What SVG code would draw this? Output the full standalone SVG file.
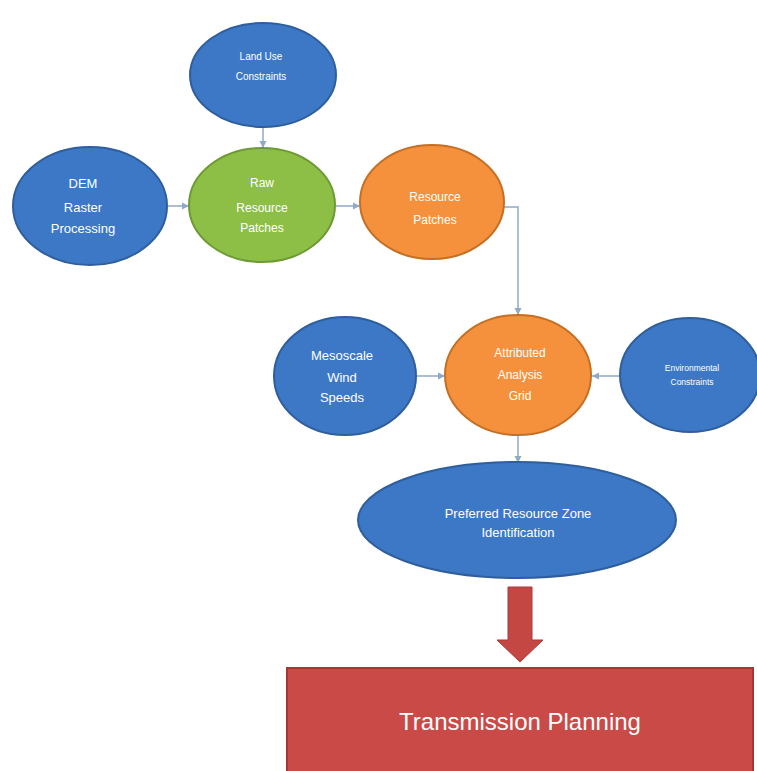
<svg xmlns="http://www.w3.org/2000/svg" width="757" height="771" viewBox="0 0 757 771">
<defs>
<style>
.blue{fill:#3d78c6;stroke:#2f5e9c;stroke-width:2}
.green{fill:#8dbf46;stroke:#6e9a33;stroke-width:2}
.orange{fill:#f5913c;stroke:#c56f25;stroke-width:2}
.t{fill:#ffffff;font-family:"Liberation Sans",Arial,sans-serif;text-anchor:middle}
.c{fill:none;stroke:#8fa9c8;stroke-width:1.5}
</style>
<marker id="ah" markerWidth="8" markerHeight="8" refX="7" refY="4" orient="auto" markerUnits="userSpaceOnUse">
<path d="M0,0.5 L7,4 L0,7.5 Z" fill="#8fa9c8"/>
</marker>
</defs>
<rect width="757" height="771" fill="#ffffff"/>
<g id="connectors">
<line class="c" x1="263" y1="127" x2="263" y2="148" marker-end="url(#ah)"/>
<line class="c" x1="168" y1="206" x2="189" y2="206" marker-end="url(#ah)"/>
<line class="c" x1="336" y1="206" x2="360" y2="206" marker-end="url(#ah)"/>
<polyline class="c" points="503,207 518,207 518,315" marker-end="url(#ah)"/>
<line class="c" x1="417" y1="376" x2="445" y2="376" marker-end="url(#ah)"/>
<line class="c" x1="620" y1="376" x2="592" y2="376" marker-end="url(#ah)"/>
<line class="c" x1="518" y1="435" x2="518" y2="463" marker-end="url(#ah)"/>
</g>
<g id="land-use">
<ellipse class="blue" cx="263" cy="75" rx="73" ry="52"/>
<text class="t" font-size="10"><tspan x="261" y="60">Land Use</tspan><tspan x="261" y="80">Constraints</tspan></text>
</g>
<g id="dem">
<ellipse class="blue" cx="90" cy="206" rx="77" ry="59"/>
<text class="t" font-size="13"><tspan x="83" y="188">DEM</tspan><tspan x="83" y="212">Raster</tspan><tspan x="83" y="233">Processing</tspan></text>
</g>
<g id="raw-resource-patches">
<ellipse class="green" cx="262" cy="205" rx="73" ry="57"/>
<text class="t" font-size="12"><tspan x="262" y="187">Raw</tspan><tspan x="262" y="212">Resource</tspan><tspan x="262" y="232">Patches</tspan></text>
</g>
<g id="resource-patches">
<ellipse class="orange" cx="432" cy="202" rx="72" ry="57"/>
<text class="t" font-size="12"><tspan x="435" y="201">Resource</tspan><tspan x="435" y="224">Patches</tspan></text>
</g>
<g id="mesoscale">
<ellipse class="blue" cx="345" cy="376" rx="71" ry="59"/>
<text class="t" font-size="13"><tspan x="342" y="360">Mesoscale</tspan><tspan x="342" y="382">Wind</tspan><tspan x="342" y="402">Speeds</tspan></text>
</g>
<g id="attributed-grid">
<ellipse class="orange" cx="518" cy="375" rx="73" ry="60"/>
<text class="t" font-size="12"><tspan x="520" y="357">Attributed</tspan><tspan x="520" y="379">Analysis</tspan><tspan x="520" y="400">Grid</tspan></text>
</g>
<g id="environmental">
<ellipse class="blue" cx="690" cy="375" rx="70" ry="57"/>
<text class="t" font-size="8.5"><tspan x="692" y="371">Environmental</tspan><tspan x="692" y="385">Constraints</tspan></text>
</g>
<g id="preferred-zone">
<ellipse class="blue" cx="517" cy="520" rx="159" ry="58"/>
<text class="t" font-size="13"><tspan x="518" y="518">Preferred Resource Zone</tspan><tspan x="518" y="537">Identification</tspan></text>
</g>
<g id="big-arrow">
<path d="M508,587 L532,587 L532,640 L543,640 L520,662 L497,640 L508,640 Z" fill="#c44744" stroke="#a83a37" stroke-width="1"/>
</g>
<g id="transmission-planning">
<rect x="287" y="668" width="466" height="110" fill="#c94a47" stroke="#a53835" stroke-width="2"/>
<text class="t" font-size="24" x="520" y="730" font-family="'Open Sans','Liberation Sans',sans-serif">Transmission Planning</text>
</g>
</svg>
